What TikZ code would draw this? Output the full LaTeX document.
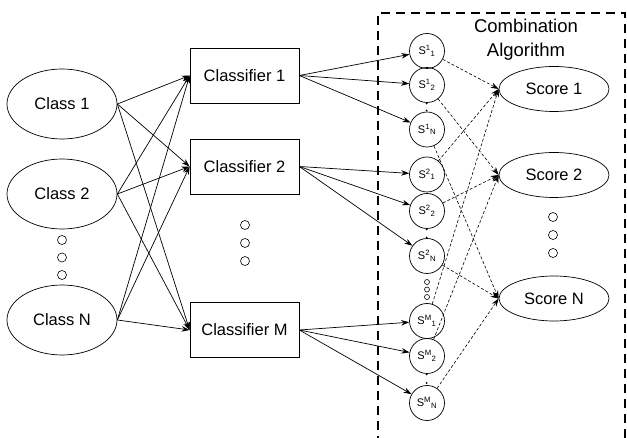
\documentclass[tikz,border=0pt]{standalone}
\usepackage{fontspec}
\setmainfont{Liberation Sans}
\usetikzlibrary{arrows.meta,shapes.geometric}
\begin{document}
\begin{tikzpicture}[x=1pt,y=-1pt,
  classell/.style={draw,ellipse,minimum width=110pt,minimum height=70pt,inner sep=0pt,font=\fontsize{16.5}{18}\selectfont,line width=0.7pt},
  scoreell/.style={draw,ellipse,minimum width=110pt,minimum height=45pt,inner sep=0pt,font=\fontsize{16.5}{18}\selectfont,line width=0.7pt},
  clbox/.style={draw,rectangle,minimum width=109pt,minimum height=55pt,inner sep=0pt,font=\fontsize{16.5}{18}\selectfont,line width=0.7pt},
  snode/.style={draw,circle,minimum size=35pt,inner sep=0pt,font=\fontsize{11}{12}\selectfont,line width=0.7pt},
  bigdot/.style={draw,circle,minimum size=9pt,inner sep=0pt,line width=0.6pt},
  smalldot/.style={draw,circle,minimum size=5pt,inner sep=0pt,line width=0.6pt},
  tinydot/.style={fill,circle,minimum size=2pt,inner sep=0pt},
  arr/.style={-{Stealth[length=8pt,width=5.5pt]},line width=0.7pt},
  darr/.style={-{Stealth[length=8pt,width=5.5pt]},line width=0.6pt,dash pattern=on 3pt off 2pt}
]
\useasboundingbox (0,0) rectangle (627,438);
\fill[white] (0,0) rectangle (627,438);
% dashed combination box
\draw[line width=2.2pt,dash pattern=on 9pt off 6pt] (378,445) -- (378,13) -- (625,13) -- (625,445);
\node[align=center,font=\fontsize{18.5}{24}\selectfont] (title) at (526,40) {Combination\\Algorithm};

% classes
\node[classell] (cl1) at (62,104) {Class 1};
\node[classell] (cl2) at (62,194) {Class 2};
\node[classell] (cln) at (62,320) {Class N};
\node[bigdot] (d1) at (62,240) {};
\node[bigdot] (d2) at (62,257.5) {};
\node[bigdot] (d3) at (62,275) {};

% classifiers
\node[clbox] (c1) at (244.5,75.5) {Classifier 1};
\node[clbox] (c2) at (244.5,166.5) {Classifier 2};
\node[clbox] (cm) at (244.5,330) {Classifier M};
\node[bigdot] (e1) at (245,225) {};
\node[bigdot] (e2) at (245,243) {};
\node[bigdot] (e3) at (245,261) {};

% score nodes
\node[snode] (s11) at (427,51) {S\textsuperscript{1}\textsubscript{1}};
\node[snode] (s12) at (427,85) {S\textsuperscript{1}\textsubscript{2}};
\node[snode] (s1n) at (427,129.5) {S\textsuperscript{1}\textsubscript{N}};
\node[snode] (s21) at (427,174.5) {S\textsuperscript{2}\textsubscript{1}};
\node[snode] (s22) at (427,211) {S\textsuperscript{2}\textsubscript{2}};
\node[snode] (s2n) at (427,256) {S\textsuperscript{2}\textsubscript{N}};
\node[snode] (sm1) at (427,321) {S\textsuperscript{M}\textsubscript{1}};
\node[snode] (sm2) at (427,356) {S\textsuperscript{M}\textsubscript{2}};
\node[snode] (smn) at (427,403) {S\textsuperscript{M}\textsubscript{N}};
\node[smalldot] (f1) at (427,282) {};
\node[smalldot] (f2) at (427,289.5) {};
\node[smalldot] (f3) at (427,297) {};
\node[tinydot] (t1) at (426.5,103.5) {};
\node[tinydot] (t2) at (426.5,110.5) {};
\node[tinydot] (t3) at (426.5,229.5) {};
\node[tinydot] (t4) at (426.5,237.5) {};
\node[tinydot] (t5) at (426.5,374.5) {};
\node[tinydot] (t6) at (426.5,383) {};

% final scores
\node[scoreell] (sc1) at (554,89) {Score 1};
\node[scoreell] (sc2) at (554,175) {Score 2};
\node[scoreell] (scn) at (554,298.5) {Score N};
\node[bigdot] (g1) at (553,217) {};
\node[bigdot] (g2) at (553,235) {};
\node[bigdot] (g3) at (553,253) {};

% class -> classifier
\foreach \a in {cl1,cl2,cln}{
  \foreach \b in {c1,c2,cm}{
    \draw[arr] (\a.east) -- (\b.west);
  }
}
% classifier -> S
\draw[arr] (c1.east) -- (s11);
\draw[arr] (c1.east) -- (s12);
\draw[arr] (c1.east) -- (s1n);
\draw[arr] (c2.east) -- (s21);
\draw[arr] (c2.east) -- (s22);
\draw[arr] (c2.east) -- (s2n);
\draw[arr] (cm.east) -- (sm1);
\draw[arr] (cm.east) -- (sm2);
\draw[arr] (cm.east) -- (smn);
% S -> scores
\foreach \s in {s11,s21,sm1}{\draw[darr] (\s) -- (sc1.west);}
\foreach \s in {s12,s22,sm2}{\draw[darr] (\s) -- (sc2.west);}
\foreach \s in {s1n,s2n,smn}{\draw[darr] (\s) -- (scn.west);}
\end{tikzpicture}
\end{document}
